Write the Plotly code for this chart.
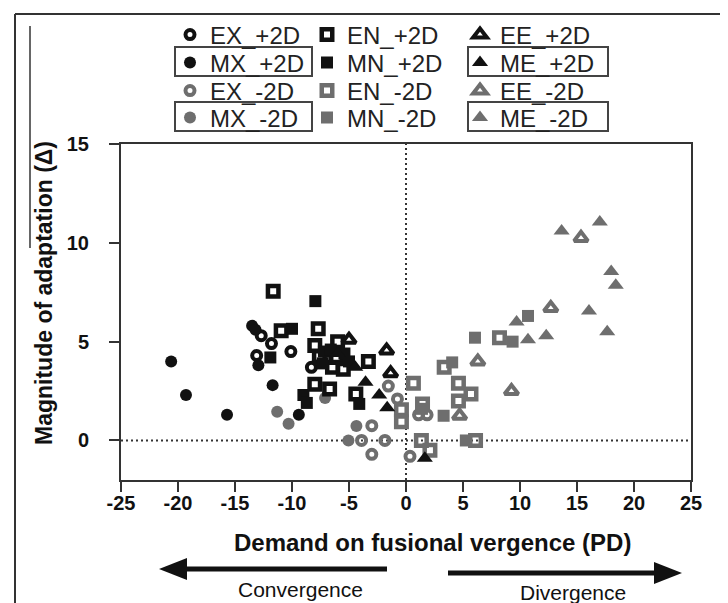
import plotly.graph_objects as go

W, H = 728, 603
ML, MR, MT, MB = 113, 45, 136, 131
PW, PH = W - ML - MR, H - MT - MB

FONT = "Liberation Sans, Arial, sans-serif"
BLACK = "#111111"
GRAY = "#6e6e6e"

# ---------------- data ----------------
EX_P_x = [-13.1, -12.7, -11.8, -10.1, -8.3]
EX_P_y = [4.3, 5.3, 4.9, 4.5, 3.7]

MX_P_x = [-20.6, -19.3, -15.7, -13.5, -13.2, -12.95, -11.7, -9.4, -6.9]
MX_P_y = [4.0, 2.3, 1.3, 5.8, 5.6, 3.8, 2.8, 1.3, 4.5]

EX_M_x = [-1.55, -0.75, -3.0, -3.9, -1.85, -3.0, 0.35, 1.1, 1.85]
EX_M_y = [2.75, 2.1, 0.75, 0.0, 0.0, -0.7, -0.8, 1.3, 1.3]

MX_M_x = [-11.3, -10.3, -7.1, -4.35, -5.05]
MX_M_y = [1.45, 0.85, 2.15, 0.73, 0.0]

EN_P_x = [-11.65, -10.95, -7.7, -6.0, -8.0, -7.6, -6.1, -6.45, -5.5, -3.3, -8.0, -6.7, -4.4]
EN_P_y = [7.55, 5.55, 5.65, 5.0, 4.8, 4.25, 4.2, 3.7, 3.6, 4.0, 2.85, 2.6, 2.35]

MN_P_x = [-7.95, -10.0, -11.9, -9.0, -8.7, -4.1, -7.2, -6.6, -5.4, -5.0, -7.3]
MN_P_y = [7.05, 5.65, 4.2, 2.3, 1.9, 1.85, 4.5, 4.6, 4.4, 4.0, 3.9]

EN_M_x = [0.65, -0.4, -0.4, 1.35, 2.1, 1.45, 3.35, 4.6, 5.7, 4.6, 6.1, 8.2]
EN_M_y = [2.9, 1.55, 0.95, 0.0, -0.5, 1.85, 3.7, 2.9, 2.35, 2.0, 0.0, 5.2]

MN_M_x = [6.05, 4.05, 3.3, 5.25, 10.7, 9.35, 1.4]
MN_M_y = [5.2, 3.95, 1.25, 0.0, 6.3, 5.0, 1.6]

EE_P_x = [-5.0, -1.7, -1.35]
EE_P_y = [5.1, 4.55, 3.4]

ME_P_x = [-4.45, -3.55, -2.35, -1.65, 1.65, -6.0]
ME_P_y = [3.7, 2.95, 2.3, 1.65, -0.9, 4.4]

EE_M_x = [6.3, 4.7, 9.25, 12.7, 15.35]
EE_M_y = [4.0, 1.25, 2.5, 6.7, 10.25]

ME_M_x = [13.65, 17.0, 18.0, 18.4, 16.05, 17.65, 9.7, 10.7, 12.3]
ME_M_y = [10.6, 11.05, 8.55, 7.85, 6.55, 5.5, 6.0, 5.1, 5.3]

X_TICKS = [-25, -20, -15, -10, -5, 0, 5, 10, 15, 20, 25]
X_TICK_TEXT = ["-25", "-20", "-15", "-10", "-5", "0", "5", "10", "15", "20", "25"]
Y_TICKS = [0, 5, 10, 15]
Y_TICK_TEXT = ["0", "5", "10", "15"]

# ---------------- series definitions ----------------
# (name, x, y, symbol, color, size, line width, legend column, legend row, boxed)
series = [
    ("EX_+2D", EX_P_x, EX_P_y, "circle-open", BLACK, 9, 4, 0, 0, False),
    ("MX_+2D", MX_P_x, MX_P_y, "circle", BLACK, 12, 0, 0, 1, True),
    ("EX_-2D", EX_M_x, EX_M_y, "circle-open", GRAY, 9, 4, 0, 2, False),
    ("MX_-2D", MX_M_x, MX_M_y, "circle", GRAY, 12, 0, 0, 3, True),
    ("EN_+2D", EN_P_x, EN_P_y, "square-open", BLACK, 10.5, 4.5, 1, 0, False),
    ("MN_+2D", MN_P_x, MN_P_y, "square", BLACK, 12, 0, 1, 1, False),
    ("EN_-2D", EN_M_x, EN_M_y, "square-open", GRAY, 10.5, 4.5, 1, 2, False),
    ("MN_-2D", MN_M_x, MN_M_y, "square", GRAY, 12, 0, 1, 3, False),
    ("EE_+2D", EE_P_x, EE_P_y, "triangle-up-open", BLACK, 12, 4, 2, 0, False),
    ("ME_+2D", ME_P_x, ME_P_y, "triangle-up", BLACK, 14, 0, 2, 1, True),
    ("EE_-2D", EE_M_x, EE_M_y, "triangle-up-open", GRAY, 12, 4, 2, 2, False),
    ("ME_-2D", ME_M_x, ME_M_y, "triangle-up", GRAY, 14, 0, 2, 3, True),
]

LEG_COL_X = [162, 299, 452]     # px, left edge of each legend column
LEG_ROW_Y = [27, 55, 83, 110]   # px, anchor of each legend row
BOX_X = {0: (167, 304), 2: (460, 600)}   # px extents of the boxed legend entries
ROW_SHIFT = -1                  # px, text centre offset from the anchor

fig = go.Figure()
legend_layouts = {}
for i, (name, xs, ys, sym, col, size, lw, lc, lr, boxed) in enumerate(series):
    key = "legend" if i == 0 else f"legend{i + 1}"
    fig.add_trace(go.Scatter(
        x=xs, y=ys, mode="markers", name=name, legend=key, showlegend=True,
        marker=dict(symbol=sym, size=size, color=col,
                    line=dict(width=lw, color=col)),
        hoverinfo="x+y+name",
    ))
    legend_layouts[key] = dict(
        xref="container", yref="container",
        x=LEG_COL_X[lc] / W, y=1 - LEG_ROW_Y[lr] / H,
        xanchor="left", yanchor="middle",
        bgcolor="rgba(0,0,0,0)", borderwidth=0,
        font=dict(family=FONT, size=24, color="#222222"),
        itemsizing="trace", itemwidth=30, tracegroupgap=0,
    )
fig.update_layout(**legend_layouts)


def px_x(px):
    return (px - ML) / PW


def px_y(py):
    return (H - MB - py) / PH


shapes = []
dot = dict(color="#333333", width=2, dash="2px,3px")
# reference lines at zero
shapes.append(dict(type="line", xref="x", yref="paper", x0=0, x1=0, y0=0, y1=1,
                   line=dot, layer="below"))
shapes.append(dict(type="line", xref="paper", yref="y", x0=0, x1=1, y0=0, y1=0,
                   line=dot, layer="below"))

# boxes round some legend entries
for (name, xs, ys, sym, col, size, lw, lc, lr, boxed) in series:
    if boxed:
        bx0, bx1 = BOX_X[lc]
        cy = LEG_ROW_Y[lr] + ROW_SHIFT
        shapes.append(dict(type="rect", xref="paper", yref="paper",
                           x0=px_x(bx0), x1=px_x(bx1),
                           y0=px_y(cy - 15), y1=px_y(cy + 14),
                           line=dict(color="#444444", width=2)))

# outer frame and stray line
frame = dict(color="#333333", width=2)
shapes.append(dict(type="line", xref="paper", yref="paper",
                   x0=px_x(7), x1=px_x(7), y0=px_y(6), y1=px_y(610), line=frame))
shapes.append(dict(type="line", xref="paper", yref="paper",
                   x0=px_x(7), x1=px_x(730), y0=px_y(6), y1=px_y(6), line=frame))
shapes.append(dict(type="line", xref="paper", yref="paper",
                   x0=px_x(22), x1=px_x(22), y0=px_y(18), y1=px_y(240),
                   line=dict(color="#333333", width=1.5)))

# arrows
arrow_line = dict(color="#111111", width=5)
shapes.append(dict(type="line", xref="paper", yref="paper",
                   x0=px_x(379), x1=px_x(172), y0=px_y(561), y1=px_y(561), line=arrow_line))
shapes.append(dict(type="path", xref="paper", yref="paper",
                   path=f"M {px_x(151)} {px_y(561)} L {px_x(179)} {px_y(550)} "
                        f"L {px_x(179)} {px_y(572)} Z",
                   fillcolor="#111111", line=dict(width=0)))
shapes.append(dict(type="line", xref="paper", yref="paper",
                   x0=px_x(440), x1=px_x(652), y0=px_y(565), y1=px_y(565), line=arrow_line))
shapes.append(dict(type="path", xref="paper", yref="paper",
                   path=f"M {px_x(674)} {px_y(565)} L {px_x(646)} {px_y(554)} "
                        f"L {px_x(646)} {px_y(576)} Z",
                   fillcolor="#111111", line=dict(width=0)))

annotations = [
    dict(text="Demand on fusional vergence (PD)", xref="paper", yref="paper",
         x=px_x(424), y=px_y(534), xanchor="center", yanchor="middle", showarrow=False,
         font=dict(family=FONT, size=24, color="#111111", weight="bold")),
    dict(text="Magnitude of adaptation (Δ)", xref="paper", yref="paper",
         x=px_x(36), y=px_y(285), xanchor="center", yanchor="middle",
         showarrow=False, textangle=-90,
         font=dict(family=FONT, size=23, color="#111111", weight="bold")),
    dict(text="Convergence", xref="paper", yref="paper",
         x=px_x(292), y=px_y(581), xanchor="center", yanchor="middle", showarrow=False,
         font=dict(family=FONT, size=21, color="#111111")),
    dict(text="Divergence", xref="paper", yref="paper",
         x=px_x(565), y=px_y(584), xanchor="center", yanchor="middle", showarrow=False,
         font=dict(family=FONT, size=21, color="#111111")),
]

axis_common = dict(
    showgrid=False, zeroline=False, showline=True, linecolor="#333333", linewidth=2,
    mirror=True, ticks="outside", ticklen=10, tickwidth=2, tickcolor="#333333",
    tickfont=dict(family=FONT, size=20, color="#111111", weight="bold"),
    automargin=False, tickmode="array",
)

fig.update_layout(
    width=W, height=H, showlegend=True,
    margin=dict(l=ML, r=MR, t=MT, b=MB, autoexpand=False),
    paper_bgcolor="white", plot_bgcolor="white",
    shapes=shapes, annotations=annotations,
    xaxis=dict(range=[-25, 25], tickvals=X_TICKS, ticktext=X_TICK_TEXT,
               ticklabelstandoff=-6, **axis_common),
    yaxis=dict(range=[-2, 15], tickvals=Y_TICKS, ticktext=Y_TICK_TEXT,
               ticklabelstandoff=16, **axis_common),
)

fig.write_html("out.html")
